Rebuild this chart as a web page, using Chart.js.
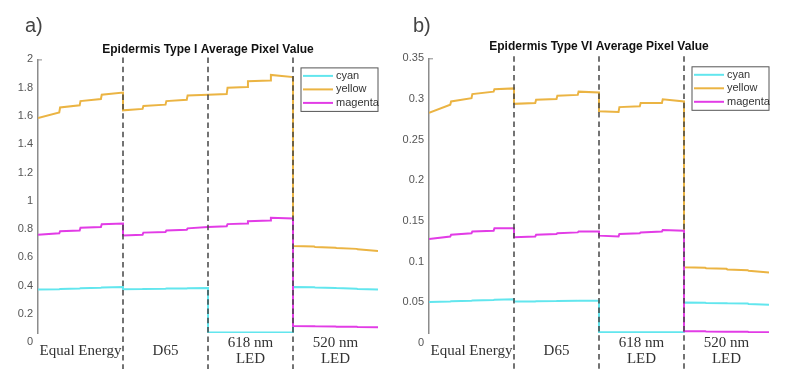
<!DOCTYPE html>
<html>
<head>
<meta charset="utf-8">
<script src="https://cdn.jsdelivr.net/npm/chart.js@4.4.1/dist/chart.umd.min.js"></script>
<style>
  body { margin: 0; background: #fff; }
  .panel { position: absolute; top: 0; width: 400px; height: 389px; }
</style>
</head>
<body>
<div class="panel" style="left:0"><canvas id="chartA" width="400" height="389"></canvas></div>
<div class="panel" style="left:400px"><canvas id="chartB" width="400" height="389"></canvas></div>
<script>
// region labels along the bottom, centred in each lighting block
const regionLabels = ['Equal Energy', 'D65', ['618 nm', 'LED'], ['520 nm', 'LED']]
const regionCenters = [0.5, 1.5, 2.5, 3.5]
const boundaries = [1, 2, 3]
const seriesNames = ['cyan', 'yellow', 'magenta']
const seriesColors = ['#62e6ee', '#ebb443', '#e23ce6']

// a) Epidermis Type I
const xA = [0, 0.25, 0.26, 0.49, 0.5, 0.74, 0.75, 1,
            1, 1.23, 1.24, 1.5, 1.51, 1.75, 1.76, 2,
            2, 2.22, 2.23, 2.46, 2.47, 2.73, 2.74, 3,
            3, 3.25, 3.26, 3.5, 3.51, 3.75, 3.76, 4]
const cyanA = [0.372, 0.375, 0.376, 0.380, 0.381, 0.385, 0.386, 0.390,
               0.375, 0.376, 0.377, 0.378, 0.379, 0.380, 0.381, 0.383,
               0.069, 0.069, 0.069, 0.069, 0.069, 0.069, 0.069, 0.069,
               0.390, 0.388, 0.387, 0.384, 0.383, 0.378, 0.377, 0.372]
const yellowA = [1.585, 1.625, 1.660, 1.675, 1.705, 1.720, 1.750, 1.765,
                 1.640, 1.650, 1.670, 1.680, 1.705, 1.715, 1.745, 1.750,
                 1.750, 1.755, 1.800, 1.805, 1.845, 1.850, 1.890, 1.875,
                 0.680, 0.676, 0.673, 0.668, 0.666, 0.660, 0.657, 0.645]
const magentaA = [0.760, 0.770, 0.785, 0.790, 0.810, 0.815, 0.835, 0.840,
                  0.755, 0.760, 0.775, 0.780, 0.790, 0.795, 0.805, 0.815,
                  0.815, 0.820, 0.835, 0.840, 0.855, 0.860, 0.880, 0.875,
                  0.115, 0.113, 0.112, 0.111, 0.110, 0.109, 0.108, 0.106]
const yTicksA = [0, 0.2, 0.4, 0.6, 0.8, 1, 1.2, 1.4, 1.6, 1.8, 2]

// b) Epidermis Type VI
const xB = [0, 0.25, 0.26, 0.5, 0.51, 0.76, 0.77, 1,
            1, 1.25, 1.26, 1.5, 1.51, 1.75, 1.76, 2,
            2, 2.23, 2.24, 2.48, 2.49, 2.74, 2.75, 3,
            3, 3.25, 3.26, 3.5, 3.51, 3.75, 3.76, 4]
const cyanB = [0.0505, 0.0510, 0.0512, 0.0520, 0.0522, 0.0530, 0.0532, 0.0537,
               0.0510, 0.0510, 0.0512, 0.0515, 0.0516, 0.0518, 0.0520, 0.0520,
               0.0132, 0.0132, 0.0132, 0.0132, 0.0132, 0.0132, 0.0132, 0.0132,
               0.0497, 0.0495, 0.0493, 0.0490, 0.0488, 0.0485, 0.0480, 0.0470]
const yellowB = [0.283, 0.293, 0.297, 0.301, 0.306, 0.309, 0.312, 0.313,
                 0.294, 0.295, 0.299, 0.300, 0.304, 0.305, 0.309, 0.308,
                 0.285, 0.284, 0.290, 0.291, 0.295, 0.295, 0.2995, 0.297,
                 0.093, 0.0925, 0.092, 0.0912, 0.0905, 0.0895, 0.0888, 0.0868]
const magentaB = [0.128, 0.131, 0.133, 0.135, 0.137, 0.138, 0.141, 0.141,
                  0.130, 0.131, 0.133, 0.134, 0.135, 0.136, 0.137, 0.137,
                  0.132, 0.131, 0.134, 0.135, 0.136, 0.137, 0.139, 0.138,
                  0.0145, 0.0143, 0.0141, 0.0139, 0.0138, 0.0137, 0.0135, 0.0133]
const yTicksB = [0, 0.05, 0.1, 0.15, 0.2, 0.25, 0.3, 0.35]

const sans = "'Liberation Sans', Arial, sans-serif"

// dashed separators, boxed legend and panel letter
const decor = {
  id: 'decor',
  afterDatasetsDraw(chart, args, opts) {
    const { ctx, chartArea, scales: { x } } = chart
    ctx.save()
    ctx.strokeStyle = '#454545'
    ctx.lineWidth = 1.5
    ctx.setLineDash([5.5, 3.8])
    boundaries.forEach(b => {
      const px = x.getPixelForValue(b)
      ctx.beginPath()
      ctx.moveTo(px, chartArea.top - 2)
      ctx.lineTo(px, 369)
      ctx.stroke()
    })
    ctx.setLineDash([])

    // legend box
    const w = 77, h = 43.5
    const lx = chartArea.right - w, ly = chartArea.top + 8.5
    ctx.fillStyle = '#fff'
    ctx.fillRect(lx, ly, w, h)
    ctx.strokeStyle = '#555'
    ctx.lineWidth = 1
    ctx.strokeRect(lx, ly, w, h)
    ctx.font = '11px ' + sans
    ctx.textBaseline = 'middle'
    chart.data.datasets.forEach((ds, i) => {
      const ry = ly + 8 + i * 13.5
      ctx.strokeStyle = ds.borderColor
      ctx.lineWidth = 2
      ctx.beginPath()
      ctx.moveTo(lx + 2, ry)
      ctx.lineTo(lx + 32, ry)
      ctx.stroke()
      ctx.fillStyle = '#333'
      ctx.fillText(ds.label, lx + 35, ry)
    })

    // small inward tick at the top of the y axis
    ctx.strokeStyle = '#8c8c8c'
    ctx.lineWidth = 1
    ctx.beginPath()
    ctx.moveTo(chartArea.left, chartArea.top + 0.5)
    ctx.lineTo(chartArea.left + 4, chartArea.top + 0.5)
    ctx.stroke()

    ctx.font = '20px ' + sans
    ctx.fillStyle = '#444'
    ctx.fillText(opts.letter, opts.letterX, 26)
    ctx.restore()
  }
}

function makeChart(id, cfg) {
  const series = [cfg.cyan, cfg.yellow, cfg.magenta]
  const datasets = series.map((vals, i) => ({
    label: seriesNames[i],
    data: cfg.xs.map((xv, j) => ({ x: xv, y: vals[j] })),
    borderColor: seriesColors[i],
    borderWidth: 2,
    pointRadius: 0,
    tension: 0,
    order: [2, 1, 0][i]
  }))
  return new Chart(document.getElementById(id), {
    type: 'line',
    data: { datasets: datasets },
    plugins: [decor],
    options: {
      responsive: false,
      animation: false,
      layout: { padding: { left: 0, right: cfg.padRight, top: 0, bottom: 0 } },
      plugins: {
        legend: { display: false },
        tooltip: { enabled: false },
        title: {
          display: true,
          fullSize: false,
          text: cfg.title,
          color: '#111',
          font: { family: sans, size: 12, weight: 'bold' },
          padding: { top: cfg.titleTop, bottom: cfg.titleBottom }
        },
        decor: { letter: cfg.letter, letterX: cfg.letterX }
      },
      scales: {
        x: {
          type: 'linear',
          min: 0,
          max: 4,
          grid: { display: false, drawTicks: false },
          border: { display: false },
          afterBuildTicks: s => { s.ticks = regionCenters.map(v => ({ value: v })) },
          afterFit: s => { s.height = 56 },
          ticks: {
            autoSkip: false,
            maxRotation: 0,
            padding: 10,
            crossAlign: 'center',
            color: '#333',
            font: { family: "'Liberation Serif', 'Times New Roman', serif", size: 15, lineHeight: 1.07 },
            callback: (v, i) => regionLabels[i]
          }
        },
        y: {
          // the plot is cropped just above zero; the 0 label still sits below it
          min: cfg.yCut,
          max: cfg.yTicks[cfg.yTicks.length - 1],
          grid: { display: false, drawTicks: false },
          border: { display: true, color: '#8c8c8c', width: 1.5 },
          afterBuildTicks: s => { s.ticks = cfg.yTicks.map(v => ({ value: v })) },
          afterFit: s => { s.width = cfg.axisLeft },
          ticks: {
            padding: 5,
            color: '#555',
            font: { family: sans, size: 11 },
            callback: v => String(v)
          }
        }
      }
    }
  })
}

makeChart('chartA', {
  xs: xA, cyan: cyanA, yellow: yellowA, magenta: magentaA, yTicks: yTicksA, yCut: 0.065,
  title: 'Epidermis Type I Average Pixel Value', titleTop: 42, titleBottom: 3,
  axisLeft: 38, padRight: 22, letter: 'a)', letterX: 25
})
makeChart('chartB', {
  xs: xB, cyan: cyanB, yellow: yellowB, magenta: magentaB, yTicks: yTicksB, yCut: 0.0123,
  title: 'Epidermis Type VI Average Pixel Value', titleTop: 39.5, titleBottom: 4.4,
  axisLeft: 29, padRight: 31, letter: 'b)', letterX: 13
})
</script>
</body>
</html>
